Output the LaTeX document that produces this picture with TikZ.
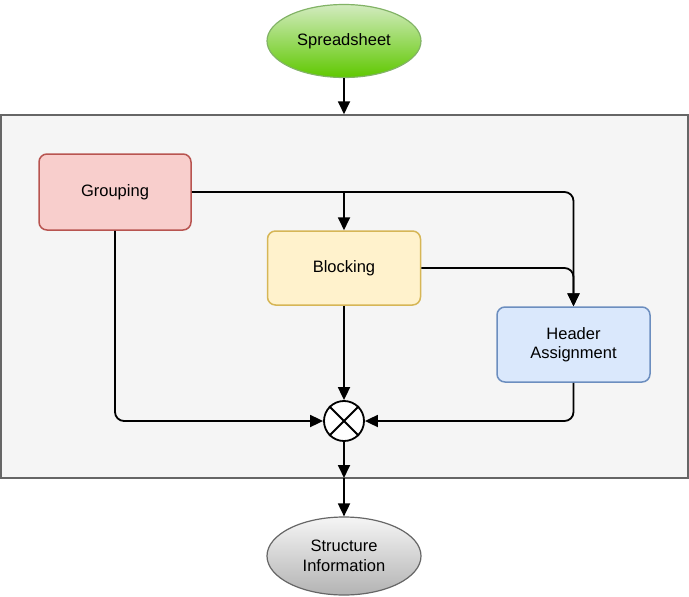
\documentclass[tikz,border=0pt]{standalone}
\usepackage{fontspec}
\setmainfont{Liberation Sans}
\usetikzlibrary{arrows.meta,shapes.geometric}
\definecolor{outerfill}{HTML}{F5F5F5}
\definecolor{outerline}{HTML}{666666}
\definecolor{redfill}{HTML}{F8CECC}
\definecolor{redline}{HTML}{B85450}
\definecolor{yelfill}{HTML}{FFF2CC}
\definecolor{yelline}{HTML}{D6B656}
\definecolor{bluefill}{HTML}{DAE8FC}
\definecolor{blueline}{HTML}{6C8EBF}
\definecolor{greentop}{HTML}{D2EBBF}
\definecolor{greenbot}{HTML}{5FC800}
\definecolor{greenline}{HTML}{82B366}
\definecolor{graytop}{HTML}{F5F5F5}
\definecolor{graybot}{HTML}{B3B3B3}
\begin{document}
\begin{tikzpicture}[x=1pt,y=-1pt,
  every node/.style={font=\fontsize{16.5}{19.5}\selectfont, align=center},
  procbox/.style={rectangle, rounded corners=8pt, line width=1.5pt, inner sep=0pt},
  termell/.style={ellipse, inner sep=0pt, line width=1.2pt},
  conn/.style={line width=1.8pt, -{Triangle[width=12pt,length=13pt]}},
  plain/.style={line width=1.8pt}]
\useasboundingbox (0,0) rectangle (689,597);
\node[rectangle, draw=outerline, fill=outerfill, line width=1.5pt, minimum width=687pt, minimum height=363pt, inner sep=0pt] (outer) at (344.5,296.5) {};
\node[termell, draw=greenline, top color=greentop, bottom color=greenbot, minimum width=154pt, minimum height=73pt] (src) at (344,41) {Spreadsheet};
\node[procbox, draw=redline, fill=redfill, minimum width=152pt, minimum height=76pt] (grp) at (115,192) {Grouping};
\node[procbox, draw=yelline, fill=yelfill, minimum width=153pt, minimum height=74pt] (blk) at (344,268) {Blocking};
\node[procbox, draw=blueline, fill=bluefill, minimum width=153pt, minimum height=75pt] (hdr) at (573.5,344.5) {Header\\Assignment};
\node[circle, draw, fill=white, line width=1.8pt, minimum size=40pt, inner sep=0pt] (mix) at (344,421) {};
\draw[plain] (mix.north west) -- (mix.south east);
\draw[plain] (mix.north east) -- (mix.south west);
\node[termell, draw=outerline, top color=graytop, bottom color=graybot, minimum width=154pt, minimum height=78pt] (res) at (344,556) {Structure\\Information};
\coordinate (j1) at (344,192);
\coordinate (bot) at (344,478);
\draw[conn] (src.south) -- (outer.north -| src.south);
\draw[conn, rounded corners=9pt] (grp.east) -| (hdr.north);
\draw[conn] (j1) -- (blk.north);
\draw[conn, rounded corners=9pt] (blk.east) -| (hdr.north);
\draw[conn, rounded corners=9pt] (grp.south) |- (mix.west);
\draw[conn] (blk.south) -- (mix.north);
\draw[conn, rounded corners=9pt] (hdr.south) |- (mix.east);
\draw[conn] (mix.south) -- (bot);
\draw[conn] (bot) -- (res.north);
\end{tikzpicture}
\end{document}
